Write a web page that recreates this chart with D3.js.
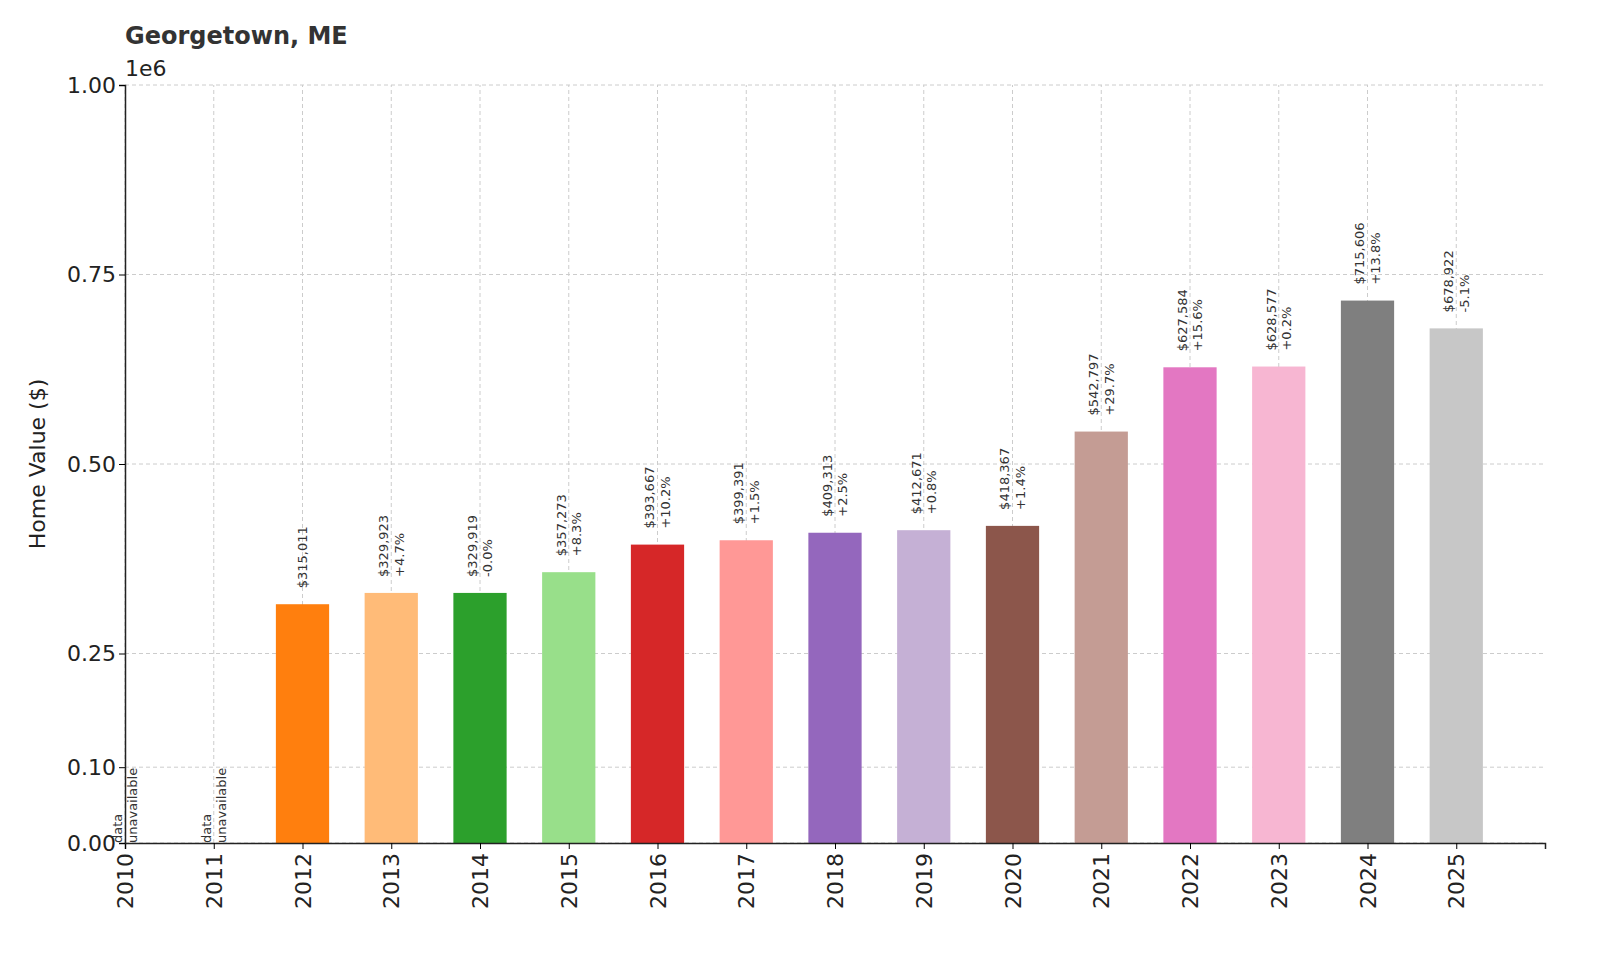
<!DOCTYPE html>
<html><head><meta charset="utf-8">
<script src="https://cdn.jsdelivr.net/npm/d3@7"></script>
<style>body{margin:0;background:#fff}text{font-family:"DejaVu Sans",sans-serif}</style>
</head><body><div id="chart"></div>
<script>
const years = [2010,2011,2012,2013,2014,2015,2016,2017,2018,2019,2020,2021,2022,2023,2024,2025];
const values = [null,null,315011,329923,329919,357273,393667,399391,409313,412671,418367,542797,627584,628577,715606,678922];
const changes = [null,null,null,"+4.7%","-0.0%","+8.3%","+10.2%","+1.5%","+2.5%","+0.8%","+1.4%","+29.7%","+15.6%","+0.2%","+13.8%","-5.1%"];
const colors = ["#1f77b4","#aec7e8","#ff7f0e","#ffbb78","#2ca02c","#98df8a","#d62728","#ff9896","#9467bd","#c5b0d5","#8c564b","#c49c94","#e377c2","#f7b6d2","#7f7f7f","#c7c7c7"];
const yTicks = [0,100000,250000,500000,750000,1000000];
const yTickLabels = ["0.00","0.10","0.25","0.50","0.75","1.00"];

const width = 1600, height = 960;
const margin = {top: 85, right: 55, bottom: 117, left: 125};
const svg = d3.select("#chart").append("svg").attr("width", width).attr("height", height);

const x = d3.scaleLinear().domain([2010, 2026]).range([margin.left, width - margin.right]);
const y = d3.scaleLinear().domain([0, 1000000]).range([height - margin.bottom, margin.top]);
const barW = x(2010.6) - x(2010);

// grid
svg.append("g").selectAll("line").data(years).join("line")
  .attr("x1", d => x(d)).attr("x2", d => x(d))
  .attr("y1", y(0)).attr("y2", y(1000000))
  .attr("stroke", "#ccc").attr("stroke-dasharray", "4,3");
svg.append("g").selectAll("line").data(yTicks).join("line")
  .attr("x1", x(2010)).attr("x2", x(2026))
  .attr("y1", d => y(d)).attr("y2", d => y(d))
  .attr("stroke", "#ccc").attr("stroke-dasharray", "4,3");

// bars
const data = years.map((yr, i) => ({yr, v: values[i], c: changes[i], col: colors[i]}));
svg.append("g").selectAll("rect").data(data.filter(d => d.v != null)).join("rect")
  .attr("x", d => x(d.yr) - barW / 2).attr("width", barW)
  .attr("y", d => y(d.v)).attr("height", d => y(0) - y(d.v))
  .attr("fill", d => d.col);

// labels
const fmt = d3.format(",");
data.forEach(d => {
  let lines, base;
  if (d.v == null) { lines = ["data", "unavailable"]; base = y(0); }
  else { lines = d.c ? ["$" + fmt(d.v), d.c] : ["$" + fmt(d.v)]; base = y(d.v) - 16; }
  const t = svg.append("text")
    .attr("transform", `translate(${x(d.yr)},${base}) rotate(-90)`)
    .attr("font-size", 13).attr("fill", "#333").attr("text-anchor", "start");
  const off = lines.length === 2 ? -0.25 : 0.35;
  lines.forEach((l, j) => t.append("tspan").attr("x", 0).attr("dy", j === 0 ? off + "em" : "1.2em").text(l));
});

// axes
const xAxis = svg.append("g").attr("transform", `translate(0,${y(0)})`)
  .call(d3.axisBottom(x).tickValues(years).tickFormat(d3.format("d")).tickSize(6));
xAxis.selectAll("text").attr("font-size", 22).attr("fill", "#222")
  .attr("transform", "rotate(-90)").attr("text-anchor", "end")
  .attr("y", 0).attr("x", -10).attr("dy", "0.35em");
xAxis.select(".domain").attr("stroke", "#222").attr("stroke-width", 1.5);

const yAxis = svg.append("g").attr("transform", `translate(${x(2010)},0)`)
  .call(d3.axisLeft(y).tickValues(yTicks).tickFormat((d, i) => yTickLabels[i]).tickSize(6));
yAxis.selectAll("text").attr("font-size", 22).attr("fill", "#222");
yAxis.select(".domain").attr("stroke", "#222").attr("stroke-width", 1.5);

svg.append("text").attr("x", 125).attr("y", 44).attr("font-size", 24).attr("font-weight", "bold").attr("fill", "#333").text("Georgetown, ME");
svg.append("text").attr("x", 125).attr("y", 76).attr("font-size", 22).attr("fill", "#222").text("1e6");
svg.append("text").attr("transform", `translate(45,${(y(0) + y(1e6)) / 2}) rotate(-90)`)
  .attr("text-anchor", "middle").attr("font-size", 22).attr("fill", "#222").text("Home Value ($)");
</script></body></html>
